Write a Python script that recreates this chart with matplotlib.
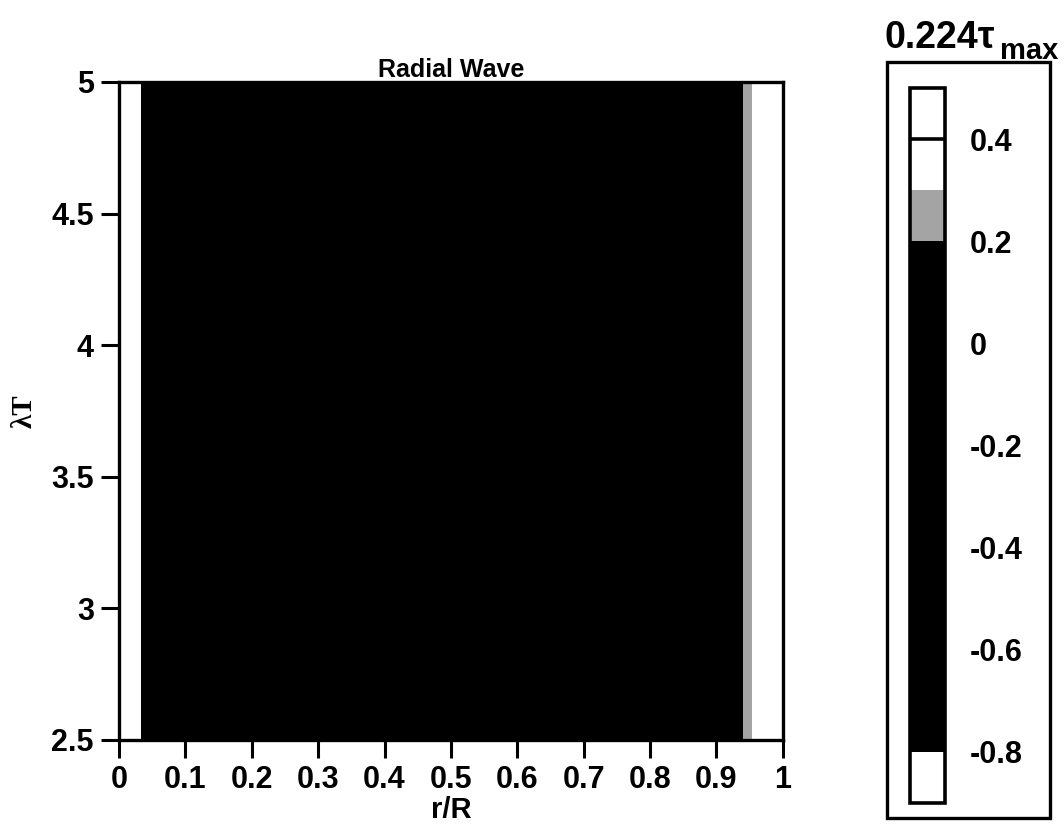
import numpy as np
import matplotlib
matplotlib.use("Agg")
import matplotlib.pyplot as plt
from matplotlib.colors import ListedColormap, BoundaryNorm
from matplotlib.patches import Rectangle

plt.rcParams['font.family'] = ['Liberation Sans', 'DejaVu Sans']
plt.rcParams['font.weight'] = 'bold'
plt.rcParams['axes.unicode_minus'] = False

# Radial profile of the wave field (piecewise constant in r, steady in time)
r_edges = [0.0, 0.033, 0.940, 0.953, 1.0]
field_values = [-0.85, -0.30, 0.25, 0.45]
t_edges = [2.5, 5.0]

# Contour levels and their fill colours
level_bounds = [-0.9, -0.8, 0.2, 0.3, 0.4, 0.5]
level_colors = ['white', 'black', '#a4a4a4', 'white', 'white']
cbar_ticks = [-0.8, -0.6, -0.4, -0.2, 0.0, 0.2, 0.4]
cbar_ticklabels = ['-0.8', '-0.6', '-0.4', '-0.2', '0', '0.2', '0.4']
x_ticks = [0, 0.1, 0.2, 0.3, 0.4, 0.5, 0.6, 0.7, 0.8, 0.9, 1]
x_ticklabels = ['0', '0.1', '0.2', '0.3', '0.4', '0.5', '0.6', '0.7', '0.8', '0.9', '1']
y_ticks = [2.5, 3, 3.5, 4, 4.5, 5]
y_ticklabels = ['2.5', '3', '3.5', '4', '4.5', '5']

fig = plt.figure(figsize=(10.64, 8.35), dpi=100)
ax = fig.add_axes([0.1118, 0.1138, 0.6240, 0.7880])

cmap = ListedColormap(level_colors)
norm = BoundaryNorm(level_bounds, cmap.N)
Z = np.tile(np.array(field_values), (len(t_edges) - 1, 1))
mesh = ax.pcolormesh(r_edges, t_edges, Z, cmap=cmap, norm=norm, shading='flat')

ax.set_xlim(0, 1)
ax.set_ylim(2.5, 5)
ax.set_xticks(x_ticks)
ax.set_xticklabels(x_ticklabels)
ax.set_yticks(y_ticks)
ax.set_yticklabels(y_ticklabels)
ax.tick_params(direction='out', length=13, width=2.2, labelsize=22, pad=5)
for s in ax.spines.values():
    s.set_linewidth(2.4)
ax.set_title('Radial Wave', fontsize=18, fontweight='bold', pad=3)
ax.set_xlabel('r/R', fontsize=21, fontweight='bold', labelpad=1)
ax.set_ylabel('λT', fontsize=21, fontweight='bold', labelpad=10,
              family=['Liberation Serif', 'DejaVu Serif'])

# Frame around the colour bar
fig.patches.append(Rectangle((0.8336, 0.0204), 0.1532, 0.905, transform=fig.transFigure,
                             fill=False, edgecolor='black', linewidth=2.4))

cax = fig.add_axes([0.8553, 0.0383, 0.0329, 0.8563])
cb = fig.colorbar(mesh, cax=cax, boundaries=level_bounds, spacing='proportional')
cb.set_ticks(cbar_ticks)
cb.set_ticklabels(cbar_ticklabels)
cax.minorticks_off()
cb.outline.set_linewidth(2.6)
cax.axhline(0.4, color='black', linewidth=2.6)
cax.tick_params(length=0, labelsize=22, pad=18)
for lab in cax.get_yticklabels():
    lab.set_fontweight('bold')

fig.text(0.831, 0.943, '0.224τ', fontsize=27, fontweight='bold', ha='left', va='baseline')
fig.text(0.940, 0.929, 'max', fontsize=21, fontweight='bold', ha='left', va='baseline')

fig.savefig('out.png', dpi=100)
